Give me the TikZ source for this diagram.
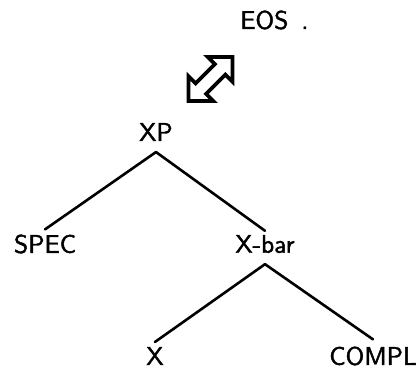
\documentclass[tikz,border=0pt]{standalone}
\usepackage{fontspec}
\newfontfamily\catfont{lmsans10-regular.otf}[FakeBold=1.6]
\usepackage{tikz}
\usetikzlibrary{shapes.arrows}
\tikzset{
  cat/.style={font=\catfont\fontsize{25.5}{30}\selectfont,inner sep=0pt},
  branch/.style={line width=2.6pt,line cap=round},
  swap/.style={draw,line width=3.8pt,shape=double arrow,rotate=45,
               inner xsep=0pt,inner ysep=5.5pt,minimum height=62pt,
               double arrow head extend=10pt,double arrow tip angle=90},
}

\begin{document}
\begin{tikzpicture}[x=1pt,y=-1pt]
  \useasboundingbox (0,0) rectangle (418,369);
  % top label and the exchange symbol
  \node[cat,anchor=west] (eos) at (240,20) {EOS\hspace{13pt}.};
  \node[swap] (link) at (210.5,79) {};
  % the phrase
  \node[cat] (xp)    at (156,132) {XP};
  \node[cat] (spec)  at (45,244)  {SPEC};
  \node[cat] (xbar)  at (265,244) {X-bar};
  \node[cat] (head)  at (155,356) {X};
  \node[cat] (compl) at (373,356) {COMPL};
  \draw[branch] ([yshift=-11pt]xp.south) -- ([yshift=5pt]spec.north);
  \draw[branch] ([yshift=-11pt]xp.south) -- ([yshift=4pt]xbar.north);
  \draw[branch] ([yshift=-11pt]xbar.south) -- ([yshift=5pt]head.north);
  \draw[branch] ([yshift=-11pt]xbar.south) -- ([yshift=7pt]compl.north);
\end{tikzpicture}
\end{document}
